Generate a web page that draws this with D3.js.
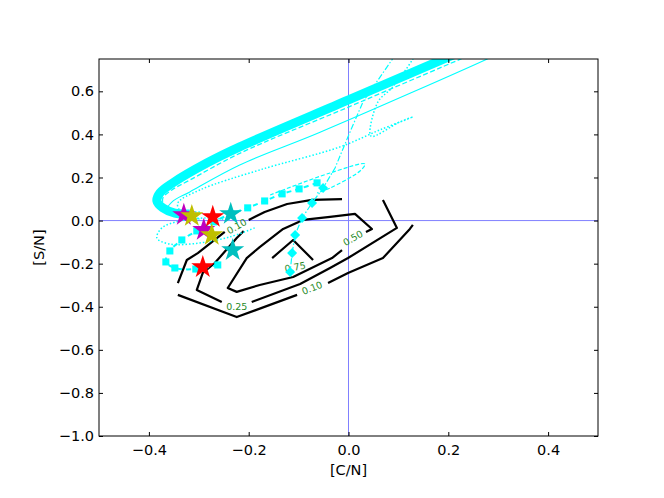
<!DOCTYPE html>
<html><head><meta charset="utf-8">
<script src="https://cdn.jsdelivr.net/npm/d3@7"></script>
<style>body{margin:0;background:#fff}</style>
</head><body>
<svg id="c" width="664" height="498"></svg>
<script>
// ---- data ----
const xTicks = [-0.4, -0.2, 0.0, 0.2, 0.4];
const yTicks = [0.6, 0.4, 0.2, 0.0, -0.2, -0.4, -0.6, -0.8, -1.0];

// cyan model tracks
const trackThick = [[-0.318,0.031],[-0.348,0.035],[-0.372,0.059],[-0.384,0.091],[-0.378,0.128],[-0.352,0.175],[-0.284,0.267],[-0.218,0.342],[0.0,0.560],[0.224,0.783],[0.304,0.860]];
const trackDashed = [[-0.308,0.021],[-0.354,0.040],[-0.370,0.072],[-0.372,0.105],[-0.354,0.142],[-0.318,0.188],[-0.218,0.312],[0.0,0.527],[0.25,0.775]];
const trackThin = [[-0.298,0.007],[-0.348,0.021],[-0.364,0.049],[-0.354,0.086],[-0.318,0.133],[-0.218,0.258],[-0.057,0.41],[0.278,0.750],[0.30,0.775]];
const trackDotted = [[-0.298,0.040],[-0.338,0.049],[-0.342,0.082],[-0.298,0.142],[-0.178,0.235],[-0.017,0.342],[0.063,0.421],[0.129,0.481],[0.103,0.458],[0.047,0.390],[0.043,0.402],[0.059,0.551],[0.087,0.616],[0.129,0.750],[0.143,0.815]];
const trackDottedLoop = [[-0.188,-0.034],[-0.238,-0.076],[-0.298,-0.104],[-0.358,-0.109],[-0.384,-0.081],[-0.374,-0.034],[-0.338,-0.002],[-0.288,0.012],[-0.238,0.003]];
const trackDashDot = [[0.103,0.815],[0.087,0.746],[0.029,0.551],[0.003,0.411],[-0.027,0.244],[-0.051,0.151],[-0.073,0.082],[-0.093,0.012],[-0.107,-0.067],[-0.113,-0.151],[-0.117,-0.239]];
const diamondPts = [[-0.051,0.151],[-0.073,0.082],[-0.093,0.012],[-0.107,-0.067],[-0.113,-0.151],[-0.117,-0.239]];
const trackDashLoop = [[-0.157,0.119],[-0.037,0.221],[0.033,0.263],[0.023,0.230],[-0.037,0.151],[-0.063,0.128]];
const trackSquares = [[-0.063,0.175],[-0.099,0.147],[-0.133,0.124],[-0.168,0.091],[-0.202,0.059],[-0.236,0.031],[-0.270,-0.006],[-0.304,-0.048],[-0.334,-0.090],[-0.358,-0.141],[-0.366,-0.192],[-0.348,-0.220],[-0.306,-0.225],[-0.262,-0.206]];

// contour segments per level
const contour010 = [
  [[-0.342,-0.290],[-0.324,-0.183],[-0.302,-0.151],[-0.248,-0.053]],
  [[-0.200,0.003],[-0.168,0.040],[-0.123,0.077],[-0.073,0.096],[-0.013,0.100]],
  [[0.129,-0.020],[0.123,-0.039],[0.069,-0.174],[-0.001,-0.243],[-0.041,-0.290]],
  [[-0.103,-0.345],[-0.224,-0.448],[-0.342,-0.345]]
];
const contour025 = [
  [[0.069,0.096],[0.097,-0.034],[-0.001,-0.174],[-0.037,-0.220],[-0.097,-0.294],[-0.194,-0.378]],
  [[-0.254,-0.378],[-0.304,-0.322],[-0.292,-0.243],[-0.268,-0.197],[-0.224,-0.081],[-0.210,-0.048]]
];
const contour050 = [
  [[-0.013,-0.137],[-0.033,-0.174],[-0.111,-0.262],[-0.178,-0.299],[-0.224,-0.331],[-0.242,-0.313],[-0.204,-0.174],[-0.178,-0.123],[-0.131,-0.039],[-0.091,0.003],[-0.037,0.017],[0.013,0.031],[0.047,-0.039],[0.035,-0.053]]
];
const contour075 = [
  [[-0.153,-0.174],[-0.111,-0.090],[-0.071,-0.183]]
];
const contourLabels = [
  {text:"0.10", x:-0.224, y:-0.027, angle:-30},
  {text:"0.10", x:-0.073, y:-0.313, angle:-22},
  {text:"0.25", x:-0.224, y:-0.401, angle:0},
  {text:"0.50", x:0.009, y:-0.081, angle:-30},
  {text:"0.75", x:-0.107, y:-0.216, angle:-10}
];

// observed stars
const starsM = [[-0.330,0.026],[-0.290,-0.043]];
const starsY = [[-0.314,0.021],[-0.274,-0.067]];
const starsR = [[-0.272,0.017],[-0.292,-0.216]];
const starsC = [[-0.236,0.031],[-0.232,-0.137]];

// ---- chart ----
const W = 664, H = 498;
const L = 99, R = 598, T = 59, B = 436;
const svg = d3.select("#c");
svg.append("rect").attr("width", W).attr("height", H).attr("fill", "#fff");

const x = d3.scaleLinear().domain([-0.5, 0.5]).range([L, R]);
const y = d3.scaleLinear().domain([-1.0, 0.75]).range([B, T]);

svg.append("defs").append("clipPath").attr("id", "clip")
  .append("rect").attr("x", L).attr("y", T).attr("width", R - L).attr("height", B - T);

const g = svg.append("g").attr("clip-path", "url(#clip)");

// zero lines
g.append("line").attr("x1", x(0)).attr("x2", x(0)).attr("y1", T).attr("y2", B)
  .attr("stroke", "#8080ff").attr("stroke-width", 1);
g.append("line").attr("x1", L).attr("x2", R).attr("y1", y(0)).attr("y2", y(0))
  .attr("stroke", "#8080ff").attr("stroke-width", 1);

const smooth = d3.line().x(d => x(d[0])).y(d => y(d[1])).curve(d3.curveCatmullRom.alpha(0.5));
const straight = d3.line().x(d => x(d[0])).y(d => y(d[1]));

// contours
[contour010, contour025, contour050, contour075].forEach(level => {
  level.forEach(seg => {
    g.append("path").attr("d", straight(seg)).attr("fill", "none")
      .attr("stroke", "#000").attr("stroke-width", 2.2).attr("stroke-linejoin", "round");
  });
});
contourLabels.forEach(l => {
  g.append("text").attr("transform", `translate(${x(l.x)},${y(l.y)}) rotate(${l.angle})`)
    .attr("text-anchor", "middle").attr("dy", "0.35em")
    .attr("font-family", "DejaVu Sans").attr("font-size", 9.5).attr("fill", "#1f8a1f")
    .text(l.text);
});

// cyan tracks
const cyan = "#00ffff";
function track(data, width, dash) {
  const p = g.append("path").attr("d", smooth(data)).attr("fill", "none")
    .attr("stroke", cyan).attr("stroke-width", width).attr("stroke-linecap", "butt");
  if (dash) p.attr("stroke-dasharray", dash);
}
track(trackThick, 9);
track(trackDashed, 1.3, "5,2.5");
track(trackThin, 1.1);
track(trackDotted, 1.5, "1.5,2");
track(trackDottedLoop, 1.5, "1.5,2");
track(trackDashLoop, 1.2, "4,2");
g.append("path").attr("d", straight(trackDashDot)).attr("fill", "none")
  .attr("stroke", cyan).attr("stroke-width", 1.2).attr("stroke-dasharray", "6,2,1.5,2");
g.append("path").attr("d", smooth(trackSquares)).attr("fill", "none")
  .attr("stroke", cyan).attr("stroke-width", 2).attr("stroke-dasharray", "5,4");

const sq = d3.symbol().type(d3.symbolSquare).size(50);
g.selectAll(".sq").data(trackSquares).join("path")
  .attr("transform", d => `translate(${x(d[0])},${y(d[1])})`).attr("d", sq).attr("fill", cyan);
g.selectAll(".dm").data(diamondPts).join("path")
  .attr("transform", d => `translate(${x(d[0])},${y(d[1])}) rotate(45)`).attr("d", sq).attr("fill", cyan);

// stars
const star = d3.symbol().type(d3.symbolStar).size(165);
[[starsM, "#bf00bf"], [starsY, "#bfbf00"], [starsR, "#ff0000"], [starsC, "#00bfbf"]].forEach(([pts, col]) => {
  pts.forEach(d => {
    g.append("path").attr("transform", `translate(${x(d[0])},${y(d[1])})`).attr("d", star).attr("fill", col);
  });
});

// frame
svg.append("rect").attr("x", L).attr("y", T).attr("width", R - L).attr("height", B - T)
  .attr("fill", "none").attr("stroke", "#000").attr("stroke-width", 1);

// axes
const fmt = d3.format(".1f");
const font = "DejaVu Sans", fs = 14.5;
const ax = svg.append("g").attr("transform", `translate(0,${B})`)
  .call(d3.axisBottom(x).tickValues(xTicks).tickSize(-4).tickSizeOuter(0).tickPadding(9).tickFormat(fmt));
const axT = svg.append("g").attr("transform", `translate(0,${T})`)
  .call(d3.axisTop(x).tickValues(xTicks).tickSize(-4).tickSizeOuter(0).tickFormat(""));
const ay = svg.append("g").attr("transform", `translate(${L},0)`)
  .call(d3.axisLeft(y).tickValues(yTicks).tickSize(-4).tickSizeOuter(0).tickPadding(5).tickFormat(fmt));
const ayR = svg.append("g").attr("transform", `translate(${R},0)`)
  .call(d3.axisRight(y).tickValues(yTicks).tickSize(-4).tickSizeOuter(0).tickFormat(""));
[ax, axT, ay, ayR].forEach(a => {
  a.select(".domain").remove();
  a.selectAll("line").attr("stroke", "#000");
  a.selectAll("text").attr("font-family", font).attr("font-size", fs).attr("fill", "#000");
});

svg.append("text").attr("x", (L + R) / 2).attr("y", 475).attr("text-anchor", "middle")
  .attr("font-family", font).attr("font-size", fs).text("[C/N]");
svg.append("text").attr("transform", `translate(44,${(T + B) / 2}) rotate(-90)`).attr("text-anchor", "middle")
  .attr("font-family", font).attr("font-size", fs).text("[S/N]");
</script>
</body></html>
